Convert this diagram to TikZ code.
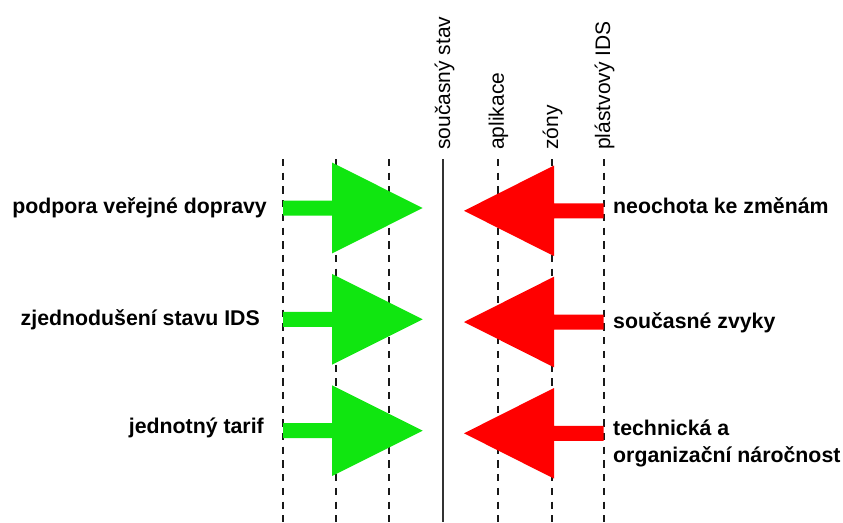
\documentclass[tikz,border=0pt]{standalone}
\usepackage{fontspec}
\setmainfont{Liberation Sans}
\usepackage{xcolor}
\definecolor{drivegreen}{RGB}{16,230,16}
\definecolor{resistred}{RGB}{255,0,0}
\definecolor{stavgray}{RGB}{50,50,50}

\begin{document}
\begin{tikzpicture}[x=1pt,y=-1pt,
  level/.style={line width=2.2pt,black!90,dash pattern=on 7.3pt off 6.4pt},
  levellabel/.style={rotate=90,anchor=west,inner sep=0pt,font=\fontsize{21}{25}\selectfont},
  force/.style={inner sep=0pt,align=left,font=\bfseries\fontsize{21.3}{27}\selectfont}]
\useasboundingbox (0,0) rectangle (843,522);
% levels
\foreach \x in {283,336,389,498,552,604} {
\draw[level] (\x,159)--(\x,522);
}
\draw[line width=2.2pt,stavgray] (443,159)--(443,522);
\node[levellabel] (stav) at (444.5,150) {současný stav};
\node[levellabel] (aplikace) at (498.5,150) {aplikace};
\node[levellabel] (zony) at (552.5,150) {zóny};
\node[levellabel] (plastvovy) at (604.5,150) {plástvový IDS};
% driving forces
\foreach \y in {208,319.3,430.7} {
\fill[drivegreen] (283,\y-7.5)--(332,\y-7.5)--(332,\y-45.4)--(422.7,\y)--(332,\y+45.4)--(332,\y+7.5)--(283,\y+7.5)--cycle;
}
% restraining forces
\foreach \y in {210.8,322,433.3} {
\fill[resistred] (603.5,\y-7.5)--(554,\y-7.5)--(554,\y-45.3)--(464,\y)--(554,\y+45.3)--(554,\y+7.5)--(603.5,\y+7.5)--cycle;
}
\node[force,anchor=base east] (podpora) at (267,213) {podpora veřejné dopravy};
\node[force,anchor=base east] (zjednoduseni) at (260,325.5) {zjednodušení stavu IDS};
\node[force,anchor=base east] (tarif) at (264,433) {jednotný tarif};
\node[force,anchor=base west] (neochota) at (613,213.3) {neochota ke změnám};
\node[force,anchor=base west] (zvyky) at (613,328.3) {současné zvyky};
\node[force,anchor=base west] (narocnost) at (613,462) {technická a\\organizační náročnost};
\end{tikzpicture}
\end{document}
